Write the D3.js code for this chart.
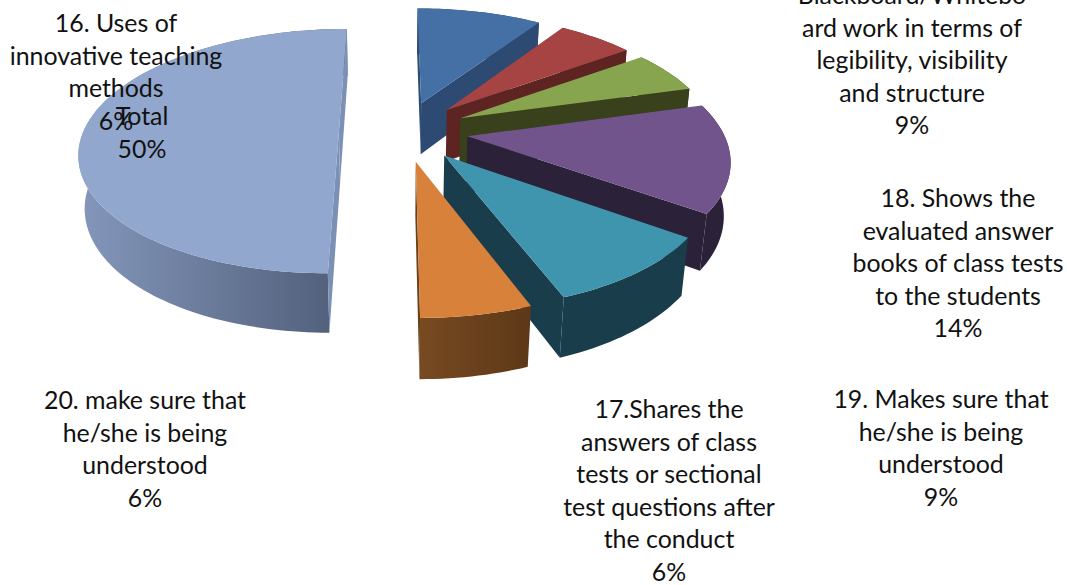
<!DOCTYPE html>
<html><head><meta charset="utf-8">
<script src="https://cdnjs.cloudflare.com/ajax/libs/d3/7.8.5/d3.min.js"></script>
<style>html,body{margin:0;padding:0;background:#fff;overflow:hidden}text{font-family:Lato,"Open Sans",sans-serif;fill:#111}</style>
</head><body><svg id="c" width="1067" height="585"></svg>
<script>
const categories=["15. Blackboard/Whiteboard","16. Uses of innovative teaching methods","17.Shares the answers","18. Shows the evaluated","19. Makes sure","20. make sure","Total"];
const values=[9.4,5.7,5.6,14.2,9.4,5.7,50];
const topColors=["#4470a6","#a54442","#87a44e","#70548b","#3f94ae","#d8813b","#91a7cd"];
const wallColors=["#2d4b72","#5e2422","#38401c","#2b2138","#1a3d4b","#774a21","#8497bb"];
const wallEnd=["#2d4b72","#5e2422","#38401c","#2b2138","#1a3d4b","#5d3817","#4f5d78"];
const sideColors=["#2d4b72","#5e2422","#38401c","#2b2138","#1a3d4b","#6a4019","#7b90b5"];
const labelLines=[
 ["Blackboard/Whitebo","ard work in terms of","legibility, visibility","and structure","9%"],
 ["16. Uses of","innovative teaching","methods","6%"],
 ["17.Shares the","answers of class","tests or sectional","test questions after","the conduct","6%"],
 ["18. Shows the","evaluated answer","books of class tests","to the students","14%"],
 ["19. Makes sure that","he/she is being","understood","9%"],
 ["20. make sure that","he/she is being","understood","6%"],
 ["Total","50%"]];
const labelAnchors=[[912,4],[116,32],[669,418],[958,207],[941,408],[145,409],[142,125]];

const svg=d3.select("#c"),defs=svg.append("defs");
const R=255,explode=64.4,H=53.5;
const cam={x:395,y:130,b:.465,d:719,q:.00037,x0:8.4,y0:-2};
function project(X,Y,z){const t=Y*cam.b,w=1+t/cam.d+z*cam.q;return [cam.x+X/w,cam.y+(-t+z)/w];}
const cross=(a,b,c)=>(b[0]-a[0])*(c[1]-a[1])-(b[1]-a[1])*(c[0]-a[0]);
const pie=d3.pie().sort(null).value(d=>d)(values);
const line=d3.line();
const slices=pie.map((p,i)=>{
  const mid=(p.startAngle+p.endAngle)/2;
  return {i,p,mid,ax:cam.x0+explode*Math.sin(mid),ay:cam.y0+explode*Math.cos(mid)};
}).sort((a,b)=>b.ay-a.ay);
slices.forEach(s=>{
  const {i,p,mid,ax,ay}=s,n=Math.ceil((p.endAngle-p.startAngle)*40);
  const angles=d3.range(n+1).map(k=>p.startAngle+(p.endAngle-p.startAngle)*k/n);
  const rim=angles.map(a=>[ax+R*Math.sin(a),ay+R*Math.cos(a)]);
  const g=svg.append("g");
  const wall=(pts)=>[...pts.map(q=>project(q[0],q[1],0)),...pts.slice().reverse().map(q=>project(q[0],q[1],H))];
  const gid="w"+i,xs=wall(rim).map(q=>q[0]);
  const lg=defs.append("linearGradient").attr("id",gid).attr("gradientUnits","userSpaceOnUse")
    .attr("x1",d3.min(xs)).attr("x2",d3.max(xs)).attr("y1",0).attr("y2",0);
  lg.append("stop").attr("offset",0).attr("stop-color",wallColors[i]);
  lg.append("stop").attr("offset",1).attr("stop-color",wallEnd[i]);
  g.append("path").attr("d",line(wall(rim))+"Z").attr("fill",`url(#${gid})`);
  const inner=project(ax+R*.5*Math.sin(mid),ay+R*.5*Math.cos(mid),0);
  [rim[0],rim[n]].forEach(r=>{
    const a=project(ax,ay,0),b=project(r[0],r[1],0);
    const m=[(ax+r[0])/2,(ay+r[1])/2];
    const side=cross(a,b,inner)*cross(a,b,project(m[0],m[1],H));
    if(side<0) g.append("path").attr("d",line(wall([[ax,ay],r]))+"Z").attr("fill",sideColors[i]);
  });
  const top=[[ax,ay],...rim].map(q=>project(q[0],q[1],0));
  g.append("path").attr("d",line(top)+"Z").attr("fill",topColors[i]);
});
const fs=24.9,lh=32.6;
labelLines.forEach((ls,i)=>{
  const t=svg.append("text").attr("text-anchor","middle").attr("font-size",fs);
  ls.forEach((l,j)=>t.append("tspan").attr("x",labelAnchors[i][0]).attr("y",labelAnchors[i][1]+j*lh).text(l));
});
svg.append("text").attr("text-anchor","middle").attr("font-size",fs).attr("x",485).attr("y",-5).text("g");
</script></body></html>
